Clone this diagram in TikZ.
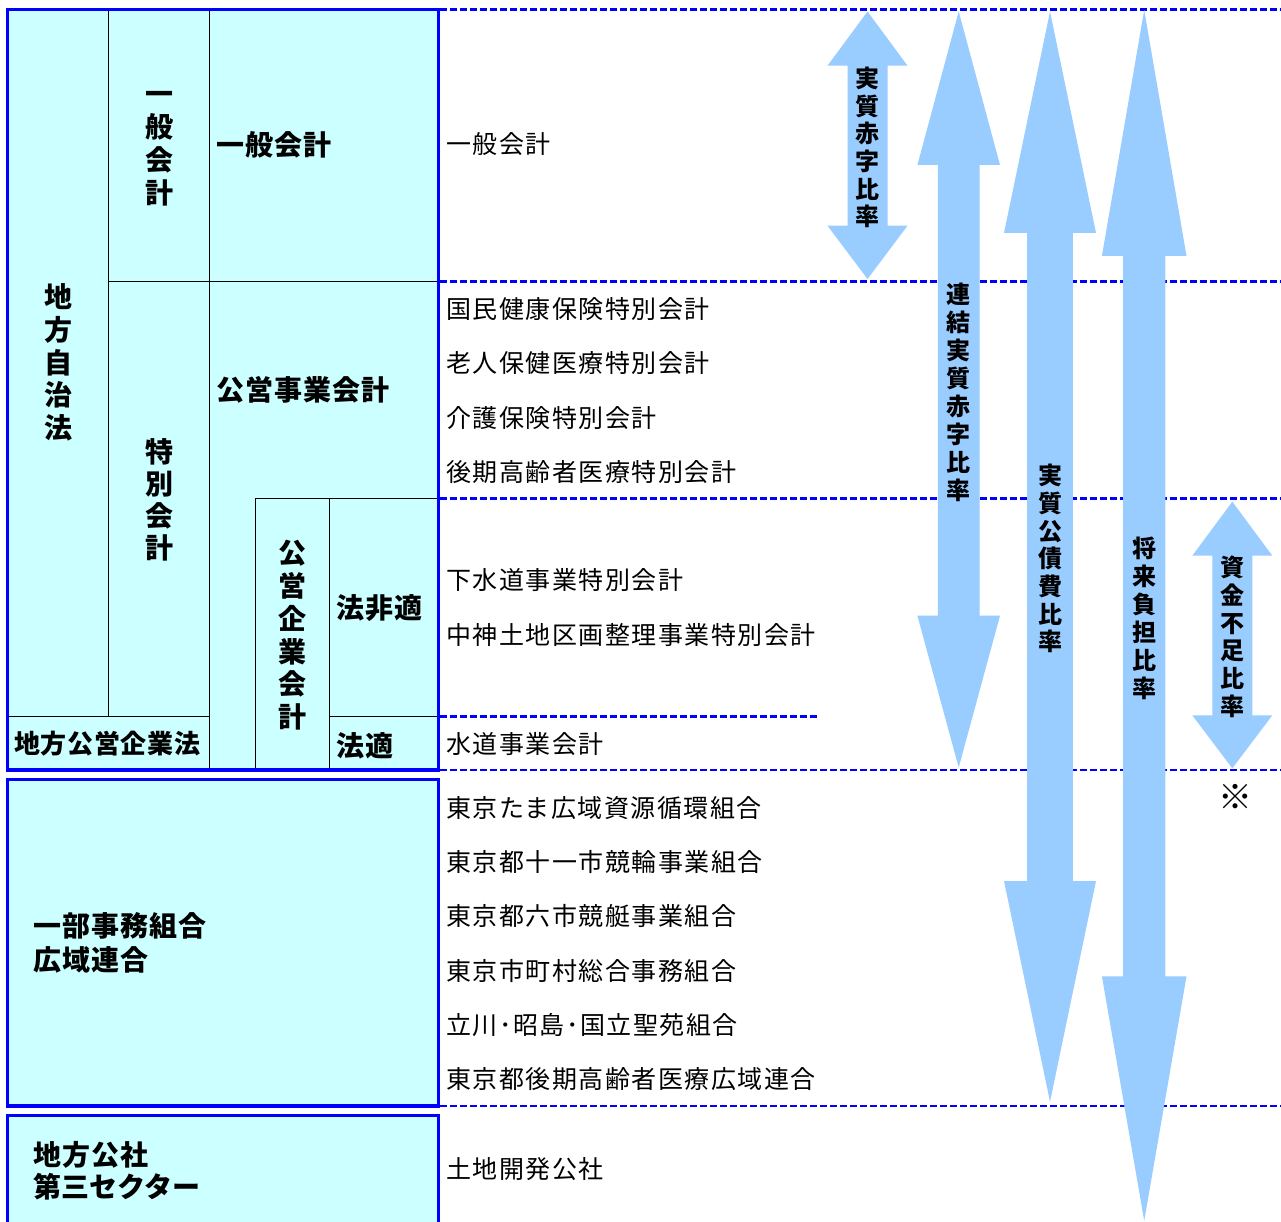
\documentclass[tikz,border=0pt]{standalone}
\usepackage{fontspec}
\newfontfamily\jp{Noto Sans CJK JP}
\definecolor{boxblue}{HTML}{0000FF}
\definecolor{boxfill}{HTML}{CCFFFF}
\definecolor{arrowblue}{HTML}{99CCFF}
\newcommand\st{\rule[-0.12em]{0pt}{1em}}
\newcommand\ratioarrow[7]{%
  \fill[arrowfill] (#1,#2) -- ({#1+#4},#3) -- ({#1+#5},#3) -- ({#1+#5},#6) -- ({#1+#4},#6) -- (#1,#7)
    -- ({#1-#4},#6) -- ({#1-#5},#6) -- ({#1-#5},#3) -- ({#1-#4},#3) -- cycle;}
\tikzset{
  boxline/.style={draw=boxblue, fill=boxfill, line width=3.2pt},
  divider/.style={draw=black, line width=1.1pt},
  sepline/.style={draw=boxblue, line width=2.7pt, dash pattern=on 7pt off 3pt},
  arrowfill/.style={fill=arrowblue},
  vlab/.style={inner sep=0pt, align=center, font=\jp\bfseries\fontsize{28}{#1}\selectfont},
  alab/.style={inner sep=0pt, align=center, font=\jp\bfseries\fontsize{24}{#1}\selectfont},
  blab/.style={inner sep=0pt, anchor=west, align=left, font=\jp\bfseries\fontsize{28}{#1}\selectfont\addfontfeature{LetterSpace=3.5}},
  item/.style={inner sep=0pt, anchor=west, font=\jp\fontsize{25}{30}\selectfont\addfontfeature{LetterSpace=6}},
}
\begin{document}
\begin{tikzpicture}[x=1pt,y=-1pt]
\useasboundingbox (0,0) rectangle (1281,1222);
\fill[white] (0,0) rectangle (1281,1222);
\begin{scope}
\clip (0,0) rectangle (1281,1222);
% boxes
\draw[boxline] (7.8,9.8) rectangle (438.7,770);
\draw[boxline] (7.8,779.7) rectangle (438.7,1106);
\fill[boxfill] (7.8,1115.3) rectangle (438.7,1240);
\draw[boxblue, line width=3.2pt] (7.8,1240) -- (7.8,1115.3) -- (438.7,1115.3) -- (438.7,1240);
% internal dividers
\draw[divider] (108.7,11.4) -- (108.7,716.3);
\draw[divider] (209.3,11.4) -- (209.3,768.4);
\draw[divider] (108.7,281.7) -- (437.1,281.7);
\draw[divider] (9.4,716.3) -- (209.3,716.3);
\draw[divider] (255.7,498.3) -- (437.1,498.3);
\draw[divider] (255.7,498.3) -- (255.7,768.4);
\draw[divider] (329.3,498.3) -- (329.3,768.4);
\draw[divider] (329.3,716.3) -- (437.1,716.3);
% dashed separators
\draw[sepline] (440.3,9.3) -- (1281,9.3);
\draw[sepline] (440.3,281.5) -- (1281,281.5);
\draw[sepline] (440.3,498.5) -- (1281,498.5);
\draw[sepline] (440.3,716.3) -- (820,716.3);
\draw[sepline] (440.3,770) -- (1281,770);
\draw[sepline] (440.3,1106) -- (1281,1106);
% ratio arrows
\ratioarrow{867.5}{11.5}{65.7}{40}{20}{225.7}{279}
\ratioarrow{958.7}{11.5}{165}{41.3}{20.9}{615.7}{767.5}
\ratioarrow{1050}{11.5}{233}{46}{22.8}{881}{1101.7}
\ratioarrow{1144.2}{10}{256}{42.3}{21.2}{976.3}{1220.7}
\ratioarrow{1232.3}{501.7}{555.7}{40}{20}{715.3}{768.3}
\end{scope}
% left column labels
\node[vlab=32.8] (jichi) at (58,362.5) {\st 地\\\st 方\\\st 自\\\st 治\\\st 法};
\node[vlab=33] (ippanv) at (159,143.5) {\st 一\\\st 般\\\st 会\\\st 計};
\node[vlab=32] (tokubetsu) at (159,500) {\st 特\\\st 別\\\st 会\\\st 計};
\node[vlab=32.8] (kigyo) at (292.5,635) {\st 公\\\st 営\\\st 企\\\st 業\\\st 会\\\st 計};
\node[blab=33] (ippanh) at (216,145) {\st 一般会計};
\node[blab=33] (koei) at (216,390) {\st 公営事業会計};
\node[blab=33] (hohiteki) at (336,608) {\st 法非適};
\node[blab=33] (hoteki) at (336,746) {\st 法適};
\node[inner sep=0pt, anchor=west, font=\jp\bfseries\fontsize{26}{30}\selectfont\addfontfeature{LetterSpace=2.5}] (kigyoho) at (14,743.5) {\st 地方公営企業法};
\node[blab=34] (ichibu) at (33,943) {\st 一部事務組合\\\st 広域連合};
\node[blab=32] (kosha) at (33,1171) {\st 地方公社\\\st {\addfontfeature{LetterSpace=0}第三セクター}};
% right column items
\node[item] (i1) at (446,144) {\st 一般会計};
\node[item] (i2) at (446,309) {\st 国民健康保険特別会計};
\node[item] (i3) at (446,363.3) {\st 老人保健医療特別会計};
\node[item] (i4) at (446,418.3) {\st 介護保険特別会計};
\node[item] (i5) at (446,471.7) {\st 後期高齢者医療特別会計};
\node[item] (i6) at (446,580) {\st 下水道事業特別会計};
\node[item] (i7) at (446,635) {\st 中神土地区画整理事業特別会計};
\node[item] (i8) at (446,744) {\st 水道事業会計};
\node[item] (i9) at (446,808) {\st 東京たま広域資源循環組合};
\node[item] (i10) at (446,862) {\st 東京都十一市競輪事業組合};
\node[item] (i11) at (446,916) {\st 東京都六市競艇事業組合};
\node[item] (i12) at (446,970.5) {\st 東京市町村総合事務組合};
\node[item] (i13) at (446,1025) {\st 立川･昭島･国立聖苑組合};
\node[item] (i14) at (446,1079) {\st 東京都後期高齢者医療広域連合};
\node[item] (i15) at (446,1169) {\st 土地開発公社};
% arrow labels
\node[alab=27.7] (a1) at (867.5,147.5) {\st 実\\\st 質\\\st 赤\\\st 字\\\st 比\\\st 率};
\node[alab=27.9] (a2) at (958.7,392.5) {\st 連\\\st 結\\\st 実\\\st 質\\\st 赤\\\st 字\\\st 比\\\st 率};
\node[alab=27.7] (a3) at (1050,558.6) {\st 実\\\st 質\\\st 公\\\st 債\\\st 費\\\st 比\\\st 率};
\node[alab=28] (a4) at (1144.2,618) {\st 将\\\st 来\\\st 負\\\st 担\\\st 比\\\st 率};
\node[alab=27.7] (a5) at (1232.3,637) {\st 資\\\st 金\\\st 不\\\st 足\\\st 比\\\st 率};
\node[inner sep=0pt, font=\jp\fontsize{34}{38}\selectfont] (note) at (1235,797) {\st ※};
\end{tikzpicture}
\end{document}
